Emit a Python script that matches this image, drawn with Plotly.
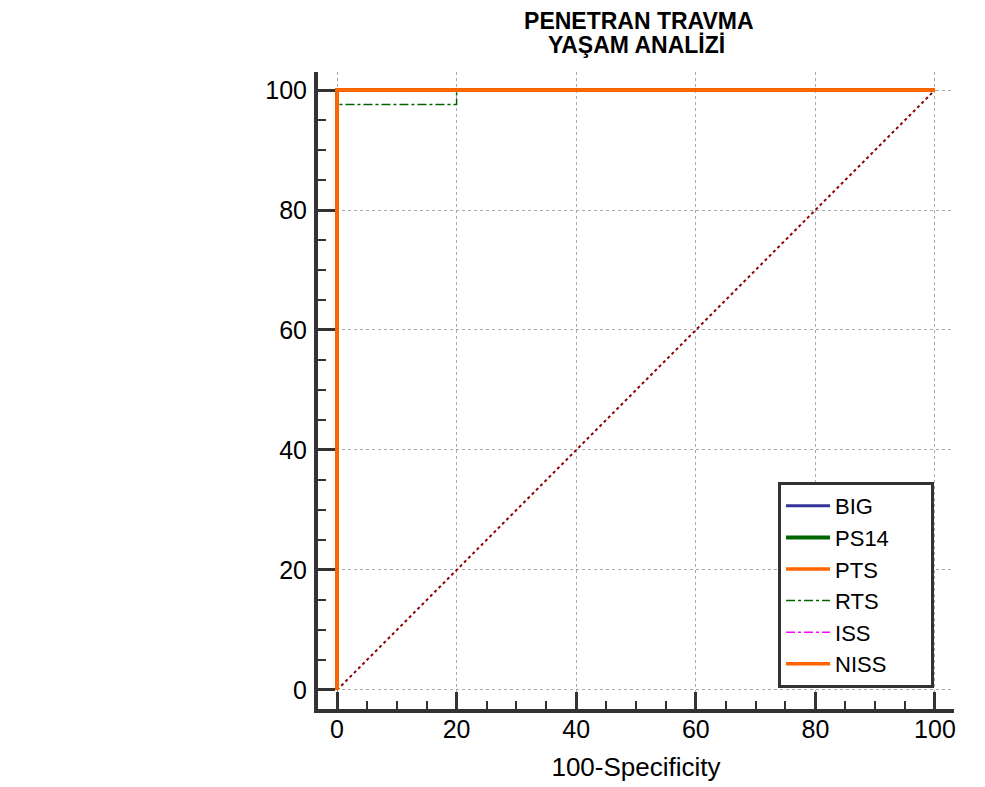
import plotly.graph_objects as go

# ---- data ----
series_names = ["BIG", "PS14", "PTS", "RTS", "ISS", "NISS"]
big_x = [0, 0, 100]
big_y = [0, 100, 100]
ps14_x = [0, 0, 100]
ps14_y = [0, 100, 100]
pts_x = [0, 0, 100]
pts_y = [0, 100, 100]
rts_x = [0, 0, 20, 20, 100]
rts_y = [0, 97.6, 97.6, 100, 100]
iss_x = [0, 0, 100]
iss_y = [0, 100, 100]
niss_x = [0, 0, 100]
niss_y = [0, 100, 100]
diag_x = [0, 100]
diag_y = [0, 100]
tick_vals = [0, 20, 40, 60, 80, 100]

styles = {
    "BIG": dict(color="#333399", width=3, dash="solid"),
    "PS14": dict(color="#006600", width=4, dash="solid"),
    "PTS": dict(color="#FF6600", width=3.5, dash="solid"),
    "RTS": dict(color="#006600", width=1.5, dash="dashdot"),
    "ISS": dict(color="#FF00FF", width=1.5, dash="dashdot"),
    "NISS": dict(color="#FF6600", width=3.5, dash="solid"),
}
data = {
    "BIG": (big_x, big_y),
    "PS14": (ps14_x, ps14_y),
    "PTS": (pts_x, pts_y),
    "RTS": (rts_x, rts_y),
    "ISS": (iss_x, iss_y),
    "NISS": (niss_x, niss_y),
}

fig = go.Figure()
fig.add_trace(go.Scatter(x=diag_x, y=diag_y, mode="lines", showlegend=False,
                         line=dict(color="#8B0000", width=2, dash="dot"), hoverinfo="skip"))
pad = "\u00a0" * 6
for name in series_names:
    xs, ys = data[name]
    fig.add_trace(go.Scatter(x=xs, y=ys, mode="lines", name=name + pad, line=styles[name]))

axis_common = dict(
    showline=True, linecolor="#333333", linewidth=4, mirror=False,
    ticks="inside", ticklen=17, tickwidth=3, tickcolor="#333333",
    tickvals=tick_vals, showgrid=True, gridcolor="#aaaaaa", gridwidth=1, griddash="dot",
    zeroline=False, tickfont=dict(size=25, color="black", family="Liberation Sans, Arial"),
    minor=dict(dtick=5, ticks="inside", ticklen=8, tickwidth=2, tickcolor="#333333", showgrid=False),
    fixedrange=True, automargin=False,
)

# page has an 8px body margin, so the figure is sized / placed to compensate
W, H = 977, 779
ML, MT, MB = 310, 64, 78
plot_h = H - MT - MB

fig.update_layout(
    width=W, height=H,
    margin=dict(l=ML, r=31, t=MT, b=MB, autoexpand=False),
    paper_bgcolor="white", plot_bgcolor="white",
    font=dict(family="Liberation Sans, Arial", color="black"),
    title=dict(text="<b>PENETRAN TRAVMA</b>", x=0.6457, xanchor="center",
               yref="container", y=1 - 13 / H, yanchor="middle", font=dict(size=23, color="black")),
    xaxis=dict(range=[-3.18, 103.18], title=dict(text="100-Specificity", font=dict(size=26), standoff=17),
               ticklabelstandoff=-5, **axis_common),
    yaxis=dict(range=[-3.17, 103.0], ticklabelstandoff=2, **axis_common),
    legend=dict(x=0.9686, xanchor="right", y=0.033, yanchor="bottom",
                bgcolor="white", bordercolor="#333333", borderwidth=3,
                font=dict(size=22, color="black"), tracegroupgap=0, itemwidth=44),
    annotations=[dict(text="<b>YAŞAM ANALİZİ</b>", xref="paper", yref="paper",
                      x=0.5, y=1 + (MT - 37) / plot_h, xanchor="center", yanchor="middle",
                      showarrow=False, font=dict(size=23, color="black"))],
)

fig.write_html("out.html")
